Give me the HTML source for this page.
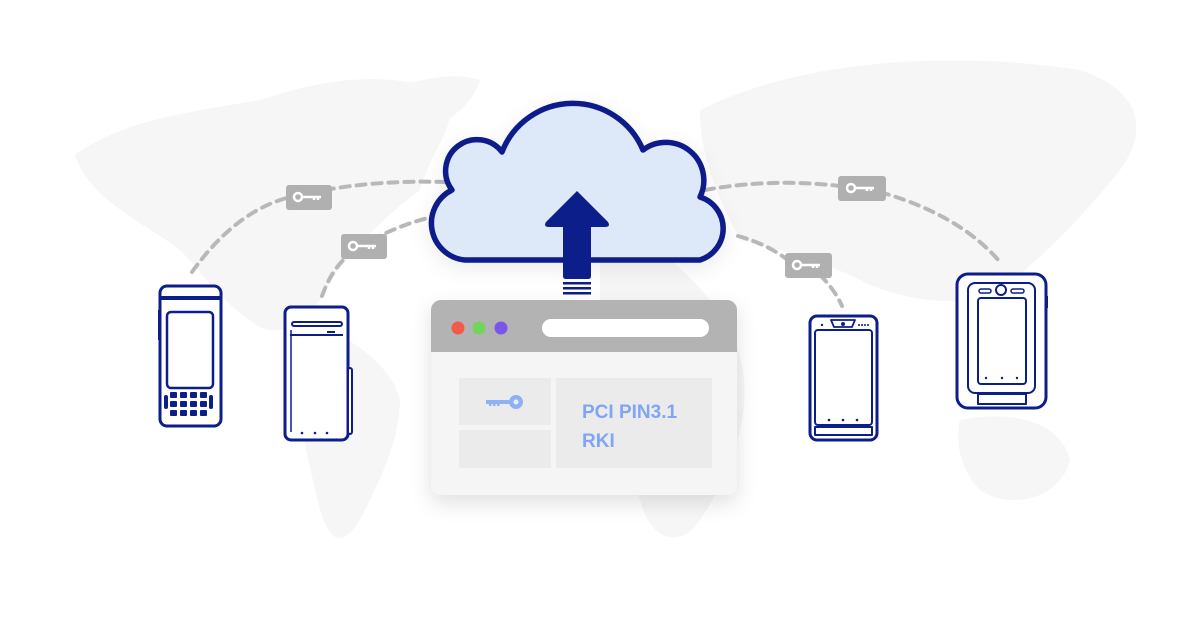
<!DOCTYPE html>
<html><head><meta charset="utf-8"><style>
html,body{margin:0;padding:0;background:#fff;}
svg{display:block;}
</style></head><body>
<svg width="1200" height="628" viewBox="0 0 1200 628" xmlns="http://www.w3.org/2000/svg">
<defs>
<filter id="sh" x="-20%" y="-20%" width="140%" height="150%"><feDropShadow dx="0" dy="8" stdDeviation="10" flood-color="#000" flood-opacity="0.12"/></filter>
<filter id="sh2" x="-20%" y="-20%" width="140%" height="150%"><feDropShadow dx="0" dy="6" stdDeviation="10" flood-color="#000" flood-opacity="0.08"/></filter>
</defs>
<!-- faint world map -->
<g fill="#f6f6f6">
<path d="M75,155 C120,120 200,110 260,100 C320,80 380,70 440,90 C470,110 430,150 420,190 C380,220 340,260 320,300 C300,330 270,340 250,320 C220,300 200,270 180,250 C140,220 90,200 75,155Z"/>
<path d="M300,320 C340,330 390,360 400,400 C400,440 380,480 360,520 C340,550 330,540 320,510 C310,470 300,420 290,380Z"/>
<path d="M350,110 C400,80 450,70 480,80 C470,110 440,130 410,130Z"/>
<path d="M700,110 C800,60 950,50 1080,70 C1140,90 1150,130 1120,170 C1080,220 1040,260 1000,290 C960,310 900,300 860,280 C820,260 780,250 740,240 C720,200 700,160 700,110Z"/>
<path d="M600,230 C660,240 700,280 730,330 C760,390 740,460 700,520 C680,550 650,540 640,500 C620,440 600,380 600,300Z"/>
<path d="M960,420 C1010,410 1060,420 1070,460 C1060,500 1010,510 980,490 C960,470 955,440 960,420Z"/>
</g>
<!-- dashed connectors -->
<g fill="none" stroke="#b8b8b8" stroke-width="4" stroke-dasharray="9 7" stroke-linecap="round">
<path d="M192,272 Q240,205 300,195"/>
<path d="M325,190 Q380,180 445,182"/>
<path d="M322,296 Q335,260 360,248"/>
<path d="M372,240 Q400,225 428,218"/>
<path d="M705,190 Q770,178 840,186"/>
<path d="M880,192 Q960,215 1000,262"/>
<path d="M738,236 Q770,245 790,262"/>
<path d="M820,275 Q835,290 842,306"/>
</g>
<!-- key badges -->
<g>
<rect x="286" y="185" width="46" height="25" rx="3" fill="#b0b0b0"/>
<rect x="341" y="234" width="46" height="25" rx="3" fill="#b0b0b0"/>
<rect x="838" y="176" width="48" height="25" rx="3" fill="#b0b0b0"/>
<rect x="785" y="253" width="47" height="25" rx="3" fill="#b0b0b0"/>
<g fill="none" stroke="#fff" stroke-width="2.5">
<circle cx="298" cy="197" r="4"/><path d="M302,197 H321 M314,197 v3 M318,197 v3"/>
<circle cx="353" cy="246" r="4"/><path d="M357,246 H376 M369,246 v3 M373,246 v3"/>
<circle cx="851" cy="188" r="4"/><path d="M855,188 H874 M867,188 v3 M871,188 v3"/>
<circle cx="797" cy="265" r="4"/><path d="M801,265 H820 M813,265 v3 M817,265 v3"/>
</g>
</g>
<!-- browser window -->
<g filter="url(#sh)">
<rect x="431" y="300" width="306" height="195" rx="10" fill="#f5f5f5"/>
</g>
<path d="M441,300 H727 A10,10 0 0 1 737,310 V352 H431 V310 A10,10 0 0 1 441,300Z" fill="#b3b3b3"/>
<circle cx="458" cy="328" r="6.5" fill="#f25a4a"/>
<circle cx="479" cy="328" r="6.5" fill="#6fd65a"/>
<circle cx="501" cy="328" r="6.5" fill="#7a55ea"/>
<rect x="542" y="319" width="167" height="18" rx="9" fill="#fff"/>
<rect x="459" y="378" width="92" height="47" fill="#ebebeb"/>
<rect x="459" y="430" width="92" height="38" fill="#ebebeb"/>
<rect x="556" y="378" width="156" height="90" fill="#ebebeb"/>
<g fill="#8fb0f5">
<circle cx="516" cy="402" r="7"/>
<rect x="486" y="400" width="24" height="4"/>
<rect x="489" y="403" width="2.5" height="3"/><rect x="493" y="403" width="2.5" height="3"/><rect x="497" y="403" width="2.5" height="3"/>
</g>
<circle cx="516" cy="402" r="2.5" fill="#ebebeb"/>
<text x="582" y="418" font-family="Liberation Sans, sans-serif" font-size="19" font-weight="bold" fill="#80a5f6">PCI PIN3.1</text>
<text x="582" y="447" font-family="Liberation Sans, sans-serif" font-size="19" font-weight="bold" fill="#80a5f6">RKI</text>
<!-- cloud -->
<g filter="url(#sh2)">
<path d="M465,260 A37,37 0 0 1 452,190 A30,30 0 0 1 502,152 A76,76 0 0 1 643,150 A38,38 0 0 1 700,197 A33,33 0 0 1 700,260 Z" fill="#dde8f9" stroke="#0c1e8a" stroke-width="5.5" stroke-linejoin="round"/>
</g>
<!-- arrow -->
<path d="M577,191 L608,222 Q611,227 605,227 L591,227 V276 Q591,279 588,279 H566 Q563,279 563,276 V227 L549,227 Q543,227 546,222 Z" fill="#0c1e8a"/>
<g fill="#0c1e8a">
<rect x="563" y="282" width="28" height="2.5"/>
<rect x="563" y="287" width="28" height="2.5"/>
<rect x="563" y="292" width="28" height="2.5"/>
</g>
<!-- devices -->
<g fill="#fff" stroke="#0c1e8a" stroke-width="3" stroke-linejoin="round">
<rect x="160" y="286" width="61" height="140" rx="7"/>
<line x1="160" y1="298" x2="221" y2="298" stroke-width="4"/>
<rect x="167" y="312" width="46" height="76" rx="4" stroke-width="2.5"/>
<rect x="158" y="310" width="3" height="30" fill="#0c1e8a" stroke="none"/>
<rect x="285" y="307" width="63" height="133" rx="6"/>
<line x1="290" y1="335" x2="343" y2="335" stroke-width="2"/>
<rect x="292" y="322" width="50" height="4" rx="2" stroke-width="2"/>
<rect x="348" y="368" width="4" height="66" rx="2" stroke-width="2"/>
<line x1="291" y1="330" x2="291" y2="432" stroke-width="1.5"/>
<rect x="810" y="316" width="67" height="124" rx="7"/>
<rect x="815" y="330" width="57" height="95" rx="3" stroke-width="2"/>
<rect x="815" y="427" width="57" height="8" stroke-width="2"/>
<path d="M831,320 H855 L852,327 H834Z" stroke-width="1.8"/>
<circle cx="843" cy="324" r="2" fill="#0c1e8a" stroke="none"/>
<rect x="957" y="274" width="89" height="134" rx="11"/>
<rect x="968" y="283" width="67" height="110" rx="7" stroke-width="2"/>
<rect x="978" y="298" width="48" height="86" rx="3" stroke-width="2"/>
<rect x="978" y="394" width="48" height="10" stroke-width="2"/>
<circle cx="1001" cy="290" r="5" stroke-width="2"/>
<rect x="979" y="289" width="12" height="4" rx="2" stroke-width="1.5"/>
<rect x="1011" y="289" width="13" height="4" rx="2" stroke-width="1.5"/>
<rect x="1045" y="296" width="3" height="12" fill="#0c1e8a" stroke="none"/>
</g>
<g fill="#0c1e8a">
<rect x="170" y="392" width="7" height="6" rx="1"/><rect x="180" y="392" width="7" height="6" rx="1"/><rect x="190" y="392" width="7" height="6" rx="1"/><rect x="200" y="392" width="7" height="6" rx="1"/>
<rect x="170" y="401" width="7" height="6" rx="1"/><rect x="180" y="401" width="7" height="6" rx="1"/><rect x="190" y="401" width="7" height="6" rx="1"/><rect x="200" y="401" width="7" height="6" rx="1"/>
<rect x="170" y="410" width="7" height="6" rx="1"/><rect x="180" y="410" width="7" height="6" rx="1"/><rect x="190" y="410" width="7" height="6" rx="1"/><rect x="200" y="410" width="7" height="6" rx="1"/>
<rect x="164" y="395" width="4" height="14" rx="2"/><rect x="209" y="395" width="4" height="14" rx="2"/>
<rect x="327" y="331" width="8" height="2"/>
<circle cx="302" cy="433" r="1.3"/><circle cx="315" cy="433" r="1.3"/><circle cx="327" cy="433" r="1.3"/>
<circle cx="829" cy="420" r="1.3"/><circle cx="843" cy="420" r="1.3"/><circle cx="857" cy="420" r="1.3"/>
<circle cx="986" cy="378" r="1.2"/><circle cx="1002" cy="378" r="1.2"/><circle cx="1017" cy="378" r="1.2"/>
<circle cx="822" cy="325" r="1.2"/><circle cx="859" cy="325" r="1"/><circle cx="862" cy="325" r="1"/><circle cx="865" cy="325" r="1"/><circle cx="868" cy="325" r="1"/>
</g>
</svg>
</body></html>
